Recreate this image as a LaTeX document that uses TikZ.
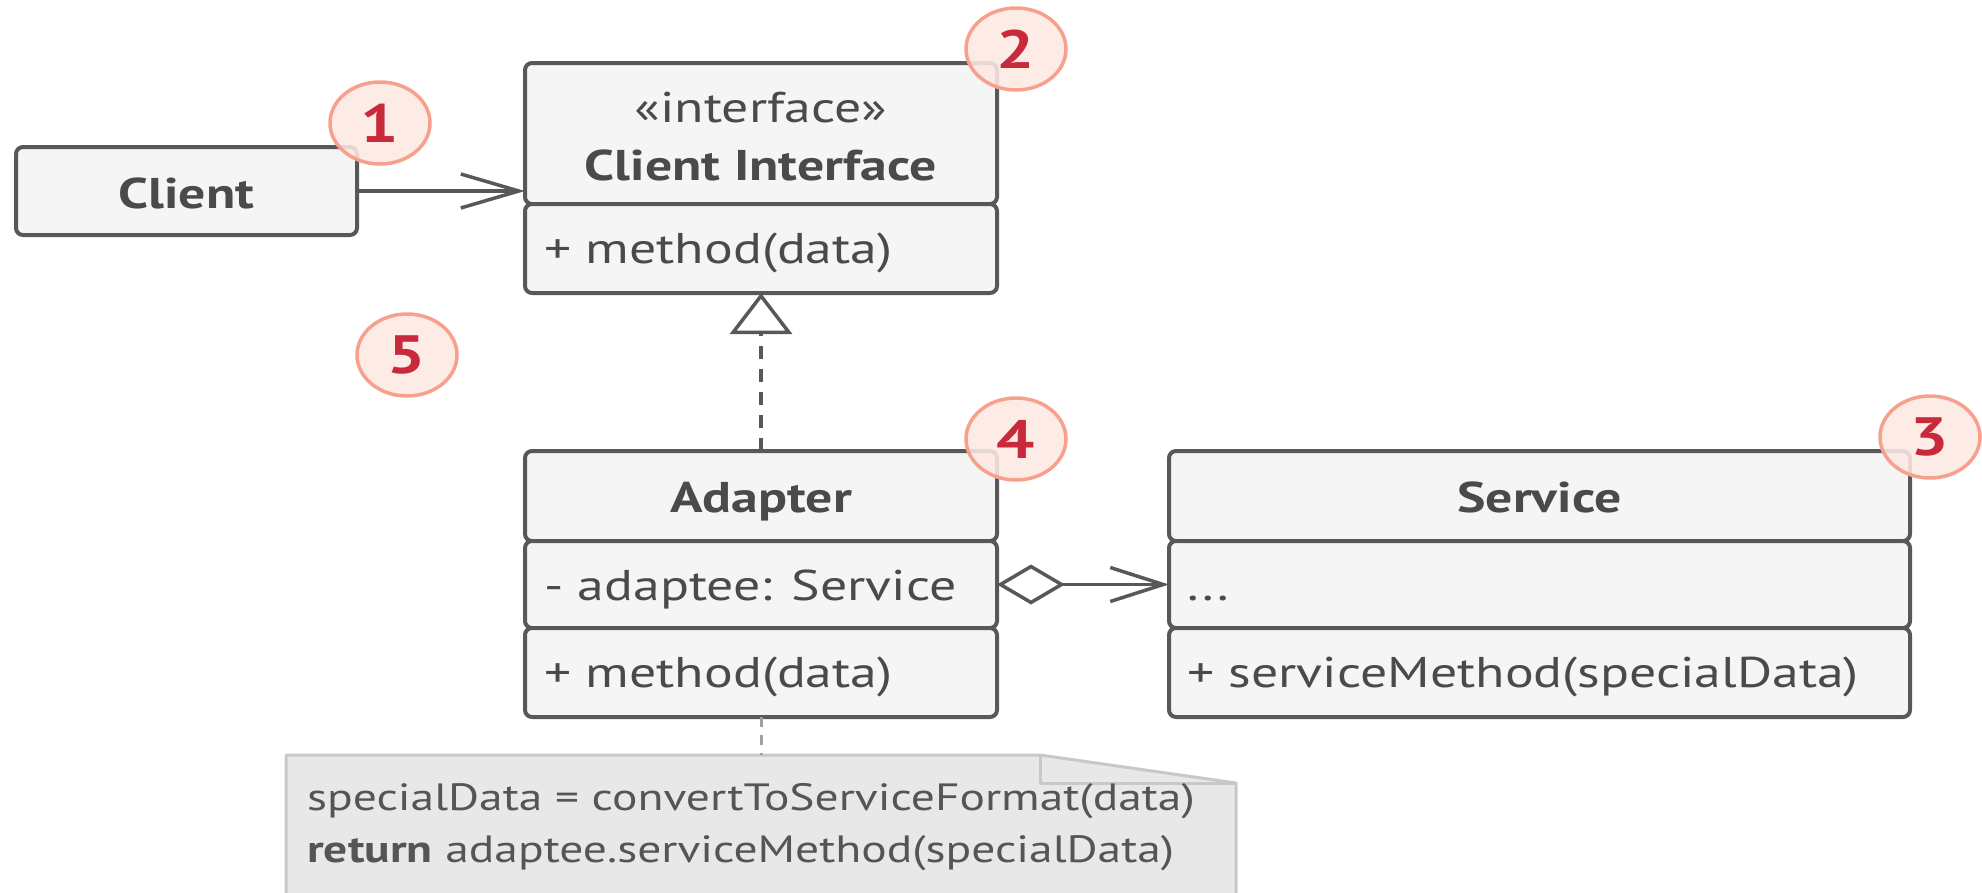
\documentclass[tikz,border=0pt]{standalone}
\usepackage{fontspec}
\setmainfont[FakeStretch=1.25]{PT Sans}
\usetikzlibrary{arrows.meta,shapes.geometric}
\definecolor{edge}{HTML}{585858}
\definecolor{boxfill}{HTML}{F5F5F5}
\definecolor{txt}{HTML}{4A4A4A}
\definecolor{badgefill}{HTML}{FDE8E3}
\definecolor{badgeedge}{HTML}{F7A18D}
\definecolor{badgetxt}{HTML}{C92A3B}
\definecolor{notefill}{HTML}{E8E8E8}
\definecolor{noteedge}{HTML}{C8C8C8}
\definecolor{notetxt}{HTML}{555555}
\begin{document}
\begin{tikzpicture}[x=1pt,y=-1pt,
  umlbox/.style={draw=edge, fill=boxfill, line width=4pt, rounded corners=7pt, inner sep=0pt, outer sep=0pt, text=txt},
  titletext/.style={font=\fontsize{43}{50}\selectfont\bfseries, text=txt, inner sep=0pt, anchor=base},
  plaintext/.style={font=\fontsize{43}{50}\selectfont, text=txt, inner sep=0pt, anchor=base},
  member/.style={font=\fontsize{43}{50}\selectfont, text=txt, anchor=base west, inner sep=0pt},
  notetext/.style={font=\fontsize{38}{44}\selectfont, text=notetxt, anchor=base west, inner sep=0pt},
  badge/.style={ellipse, draw=badgeedge, fill=badgefill, fill opacity=0.88, text opacity=1, line width=3.5pt, minimum width=100pt, minimum height=82pt, inner sep=0pt, text=badgetxt, font=\fontsize{54}{54}\selectfont\bfseries},
  conn/.style={draw=edge, line width=3.5pt},
]
\useasboundingbox (0,0) rectangle (1982,892);
\clip (0,0) rectangle (1982,892);

% Client
\node[umlbox, minimum width=341pt, minimum height=88pt] (client) at (186.5,191) {};
\node[titletext] (clientname) at (186.5,208) {Client};

% Client Interface
\node[umlbox, minimum width=472pt, minimum height=141pt] (cit) at (761,133.5) {};
\node[umlbox, minimum width=472pt, minimum height=89pt] (cib) at (761,248.5) {};
\node[plaintext] (stereo) at (761,122) {«interface»};
\node[titletext] (ciname) at (761,180) {Client Interface};
\node[member] (cim) at (544,263) {+ method(data)};

% Adapter
\node[umlbox, minimum width=472pt, minimum height=90pt] (adt) at (761,496) {};
\node[umlbox, minimum width=472pt, minimum height=87pt] (ada) at (761,584.5) {};
\node[umlbox, minimum width=472pt, minimum height=89pt] (adm) at (761,672.5) {};
\node[titletext] (adname) at (761,512) {Adapter};
\node[member] (adattr) at (544,600) {- adaptee: Service};
\node[member] (admeth) at (544,687) {+ method(data)};

% Service
\node[umlbox, minimum width=741pt, minimum height=90pt] (svt) at (1539.5,496) {};
\node[umlbox, minimum width=741pt, minimum height=87pt] (sva) at (1539.5,584.5) {};
\node[umlbox, minimum width=741pt, minimum height=89pt] (svm) at (1539.5,672.5) {};
\node[titletext] (svname) at (1539.5,512) {Service};
\node[member] (svattr) at (1187,600) {...};
\node[member] (svmeth) at (1187,687) {+ serviceMethod(specialData)};

% Note
\coordinate (notetop) at (761,755);
\draw[draw=noteedge, fill=notefill, line width=3pt, line join=round] (286,755) -- (1040,755) -- (1236,783) -- (1236,910) -- (286,910) -- cycle;
\draw[draw=noteedge, line width=3pt, line join=round] (1040,755) -- (1040,783) -- (1236,783);
\node[notetext] (note1) at (307,810) {specialData = convertToServiceFormat(data)};
\node[notetext] (note2) at (307,862) {\textbf{return} adaptee.serviceMethod(specialData)};

% Connectors
\draw[conn, -{Straight Barb[length=58pt, width=34pt]}] (client.east) -- (client.east -| cit.west);
\draw[conn, dash pattern=on 13pt off 10pt, -{Triangle[open, length=41pt, width=62pt, fill=white]}] (adt.north) -- (cib.south);
\draw[conn, {Diamond[open, length=68pt, width=40pt, fill=white]}-{Straight Barb[length=53pt, width=34pt]}] (ada.east) -- (sva.west);
\draw[draw=noteedge!80!black, line width=3pt, dash pattern=on 10pt off 8pt] (adm.south) -- (notetop);

% Badges
\node[badge] (b1) at (380,123) {1};
\node[badge] (b2) at (1016,49) {2};
\node[badge] (b3) at (1930,437) {3};
\node[badge] (b4) at (1016,439) {4};
\node[badge] (b5) at (407,355) {5};
\end{tikzpicture}
\end{document}
